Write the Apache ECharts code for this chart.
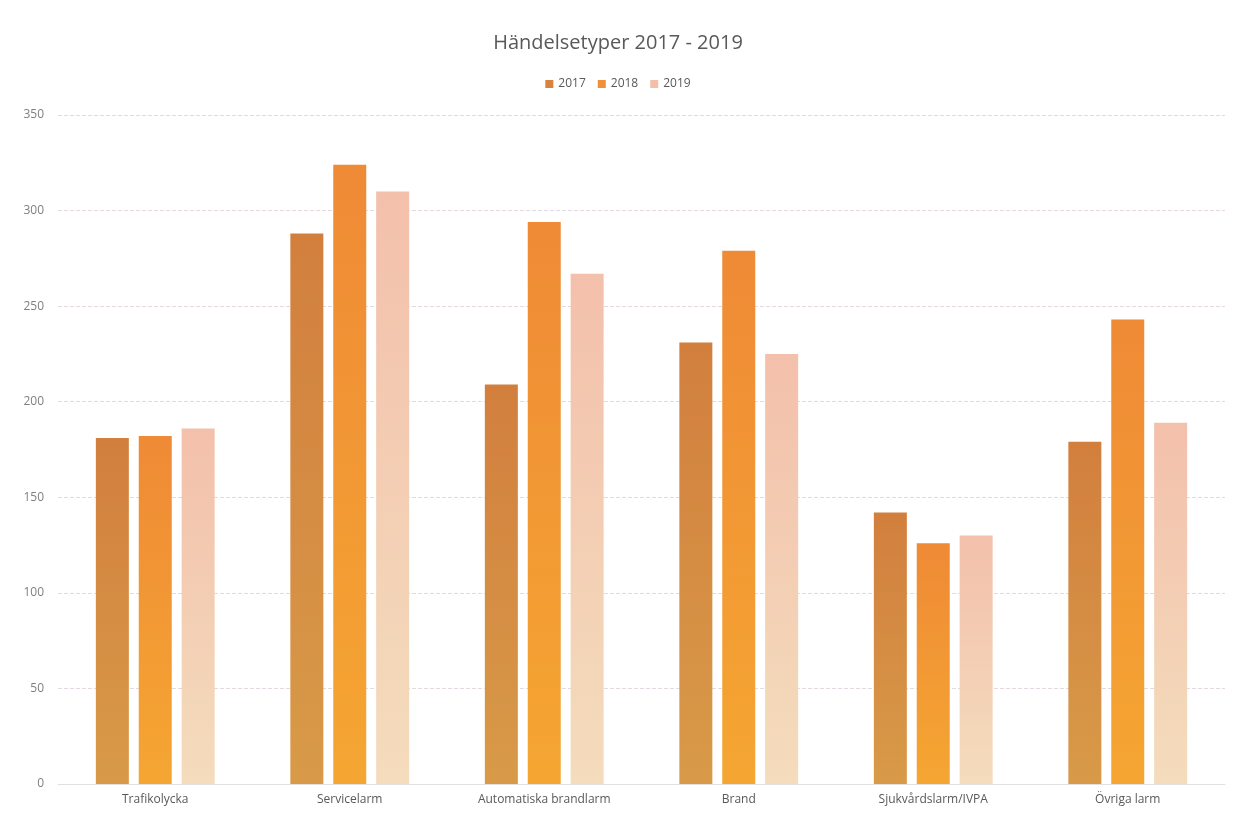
<!DOCTYPE html>
<html>
<head>
<meta charset="utf-8">
<script src="https://cdn.jsdelivr.net/npm/echarts@6/dist/echarts.min.js"></script>
<style>
html,body{margin:0;padding:0;background:#fff;}
#chart{width:1236px;height:817px;}
</style>
</head>
<body>
<div id="chart"></div>
<script>
const categories = ['Trafikolycka','Servicelarm','Automatiska brandlarm','Brand','Sjukvårdslarm/IVPA','Övriga larm'];
const years = ['2017','2018','2019'];
const values2017 = [181, 288, 209, 231, 142, 179];
const values2018 = [182, 324, 294, 279, 126, 243];
const values2019 = [186, 310, 267, 225, 130, 189];
const yTicks = [0, 50, 100, 150, 200, 250, 300, 350];

const grad = (top, bottom) => new echarts.graphic.LinearGradient(0,0,0,1,[{offset:0,color:top},{offset:1,color:bottom}]);
const colors = [
  grad('#d27f3e', '#d89a48'),
  grad('#ef8a36', '#f5a632'),
  grad('#f3c0ab', '#f4dcbc')
];
const legendColors = ['#d8823f','#f0913a','#f3bfa8'];

const chart = echarts.init(document.getElementById('chart'));
const seriesData = [values2017, values2018, values2019];
chart.setOption({
  animation:false,
  backgroundColor:'#fff',
  textStyle:{fontFamily:'"Open Sans", Calibri, sans-serif'},
  title:{
    text:'Händelsetyper 2017 - 2019',
    left:'center', top:28,
    textStyle:{fontSize:20, fontWeight:'normal', color:'#595959', fontFamily:'"Open Sans", sans-serif'}
  },
  legend:{
    top:73, left:'center',
    itemWidth:8, itemHeight:8, itemGap:12,
    textStyle:{fontSize:12, color:'#595959'},
    data: years.map((y,i)=>({name:y, icon:'rect', itemStyle:{color:legendColors[i]}}))
  },
  grid:{left:58, right:11, top:115, bottom:33},
  xAxis:{
    type:'category', data:categories,
    axisLine:{lineStyle:{color:'#e0e0e0'}},
    axisTick:{show:false},
    axisLabel:{fontSize:12, color:'#595959', margin:10}
  },
  yAxis:{
    type:'value', min:0, max:350, interval:50,
    axisLine:{show:false}, axisTick:{show:false},
    axisLabel:{fontSize:12, color:'#7f7f7f', margin:14},
    splitLine:{lineStyle:{color:'#e4d8e2', type:'dashed'}}
  },
  series: years.map((y,i)=>({
    name:y, type:'bar', data:seriesData[i],
    barWidth:33, barGap:'30%',
    itemStyle:{color:colors[i]}
  }))
});
</script>
</body>
</html>
